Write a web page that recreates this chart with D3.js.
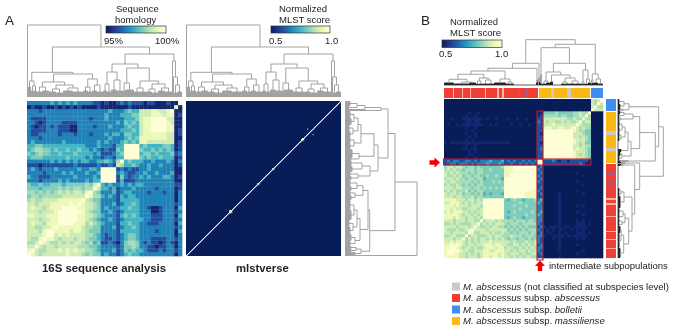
<!DOCTYPE html>
<html>
<head>
<meta charset="utf-8">
<script src="https://cdn.jsdelivr.net/npm/d3@7"></script>
<style>
    html, body { margin: 0; padding: 0; background: #fff; }
    svg { filter: blur(0.35px); }
    text { font-family: "Liberation Sans", Arial, sans-serif; fill: #222; }
</style>
</head>
<body>
<div id="chart"></div>
<script>
'use strict';

// lower triangle of the 16S heatmap, row 0 is bottom left, digits 0-9 = low to high
var homologyRows = [
    '9',
    '89',
    '779',
    '6679',
    '76689',
    '777789',
    '7776899',
    '77 667 78 9',
    '78 776 88 89',
    '77 767 78 899',
    '88 777 88 8999',
    '77 767 77 89999',
    '78 776 78 889999',
    '77 677 78 8888989',
    '67 667 77 78888889',
    '56 656 66 66777777 9',
    '66 565 65 67676776 89',
    '55 545 55 56565665 66 9',
    '54 454 45 55455555 65 79',
    '33 323 33 34343333 43 44 9',
    '43 322 23 33333433 33 43 99',
    '33 332 33 33434333 43 34 999',
    '34 323 33 43333343 34 43 9999',
    '22 212 22 22222322 22 23 2232 7',
    '33 333 34 34343434 43 34 4543 69',
    '45 554 44 44454444 34 33 2332 44 9',
    '54 565 54 45444544 44 34 2223 45 99',
    '45 665 54 54454454 43 43 2322 54 999',
    '44 554 44 44444444 33 34 3332 44 9999',
    '34 333 33 33433333 33 34 3433 34 5454 8',
    '33 323 33 33333333 33 33 3343 33 4545 88',
    '32 233 33 32333233 32 33 3434 43 5544 788',
    '32 222 33 32221133 33 33 3333 34 4454 7889',
    '32 122 32 32221133 33 23 3343 33 4544 78899',
    '33 212 33 33222233 33 33 3333 43 5454 788999',
    '32 222 33 33333333 32 33 3433 33 4445 7889999',
    '33 333 33 33333333 33 33 3433 34 4455 77788878',
    '33 323 33 33333333 33 33 3343 33 4544 777887789',
    '12 112 11 21212121 11 12 1111 11 1211 111111111 8',
    '33 333 34 34343433 33 22 1211 23 2322 212211121 1 9'
];

// lower triangle of the MLST heatmap in panel B, same reading
var mlstRows = [
    '9',
    '89',
    '899',
    '8899',
    '88989',
    '778788',
    '777677 9',
    '667766 69',
    '776777 769',
    '766676 6789',
    '777767 77679',
    '667676 666779',
    '777677 7677669',
    '888787 7677676 9',
    '888887 6776767 99',
    '787888 7767677 999',
    '887877 6677767 9999',
    '888787 7767776 99999',
    '778887 6767677 999999',
    '888877 7677676 9999999',
    '777677 6667566 5555555 9',
    '767767 5665656 4545554 99',
    '676766 6756566 5555555 999',
    '777677 6665665 6565656 9999',
    '676676 5656566 5555555 99999',
    '767766 6665656 5556565 999999',
    '677676 6566566 4555554 9999999',
    '766767 5665665 5655655 88999999',
    '767676 6656566 5555555 889999999',
    '676766 5666566 5565555 8889999999',
    '677677 6566565 5555556 88899999999',
    '223323 3323233 3433343 22322323232 9',
    '232332 2332323 3343334 23232232323 99',
    '000000 0100100 0000000 00000000000 22 9',
    '000000 0011000 0000000 00000000000 22 99',
    '000000 0010100 0000000 00000000000 22 999',
    '000000 1101100 0000000 00000000000 23 9999',
    '000000 0100100 0000000 00000000000 22 99999',
    '101111 1111111 1111111 11000000000 21 999999',
    '000000 0101000 0000000 00000000000 22 9999999',
    '000000 0010100 0000000 00000000000 22 99999999',
    '000000 0100100 0000000 00000000000 21 999999999',
    '000000 0001000 0000000 00000000000 22 9999999999',
    '000000 0100100 0000000 00000000000 22 8887788778 9',
    '010010 1111111 0010100 00100100100 22 7778777777 79',
    '000000 0110110 0000000 00000000000 32 7677667676 679',
    '001000 1111111 0100100 01001001000 22 7777777766 7669',
    '000000 0100100 0000000 00000000000 12 6666656655 66769',
    '000000 0010010 0000000 00000000000 11 5555655555 667669',
    '000000 0000000 0000000 00000000000 00 0000000000 000000 9',
    '000000 0000000 0000000 00000000000 00 0000000000 000000 79',
    '000000 0000000 0000000 00000000000 00 0000000000 000000 769',
    '000000 0000000 0000000 00000000000 00 0000000000 000000 7679'
];

// mlstverse panel: bright spots on and next to the diagonal [row, col, score]
var mlstverseSpots = [
    [43, 43, 1], [44, 44, 1], [45, 45, 1], [43, 44, 0.9], [44, 43, 0.9], [44, 45, 0.9], [45, 44, 0.9],
    [43, 45, 0.8], [45, 43, 0.8],
    [72, 72, 1], [71, 72, 0.8], [72, 71, 0.8],
    [82, 82, 1], [87, 87, 1], [86, 87, 0.8], [87, 86, 0.8],
    [114, 114, 1], [116, 116, 1], [117, 117, 1], [116, 117, 1], [117, 116, 1],
    [115, 116, 0.85], [116, 115, 0.85],
    [126, 126, 0.85], [127, 127, 0.85],
    [127, 121, 0.68], [126, 121, 0.68], [121, 127, 0.68], [121, 126, 0.68]
];

// dendrograms: [height, child, child], [height, n] is a clump of n leaves,
// a bare number is a stretch of n leaves lying flat on the base line
var treeA = [72,
    [0, 1],
    [50,
        [24.7,
            [16, [10, 3], [11, [6, 3], [6, 3]]],
            [23,
                [15,
                    [10, [5, 5], [6, 7]],
                    [12, [8, [5, 7], [4, 7]], [9, [6, 10], [5, 10]]]
                ],
                [18, [10, [6, 5], [5, 4]], [12, [6, 5], [5, 6]]]
            ]
        ],
        [43,
            [33,
                [25, [13, [6, 4], [5, 4]], [17, [7, 6], [6, 6]]],
                [29,
                    [14, [6, 2], [7, 9]],
                    [16,
                        [9, [5, 6], [5, 6]],
                        [13, [8, [5, 6], [4, 6]], [9, [6, 7], [5, 7]]]
                    ]
                ]
            ],
            [36, [0, 1], [20, [0, 1], [12, [4, 3], [5, 5]]]]
        ]
    ]
];

var treeB = [45.3,
    [21.7,
        [16.7,
            [14,
                [10.7,
                    [5.7, [2, 10], [3, [1, 15], [2, 7]]],
                    [7, [4, [1, 3], [1, 4]], [5, [1, 5], [1, 6]]]
                ],
                [6, [2, 12], [3, [1, 4], [1, 4]]]
            ],
            22,
            [5, [2, 1], [3, 1]]
        ],
        [7, [0, 1], [3, 1]]
    ],
    [40.7,
        [37.3,
            [10, [2, 1], [1, 1]],
            [21.7,
                [13,
                    [4, [1, 4], [2, 4]],
                    [10, [3, 3], 8, [7, [3, [1, 4], [1, 4]], [4, [1, 6], [1, 6]]]]
                ],
                [15, [3, [1, 2], [1, 2]], [6, [1, 3], [2, 3]]]
            ]
        ],
        [11, [5, [1, 1], [2, 2]], [6, [2, 4], [1, 5]]]
    ]
];

// subspecies strip in panel B, read left to right along the columns
var stripTypes = ['abs', 'pale', 'abs', 'pale', 'abs', 'pale', 'abs', 'pale', 'abs', 'pale', 'abs', 'pale',
    'abs', 'mix', 'abs', 'mix', 'abs', 'gap', 'mas', 'unc', 'mas', 'unc', 'mas', 'gap', 'bol'];
var stripCounts = [9, 1, 8, 1, 7, 1, 14, 1, 11, 2, 3, 2, 15, 1, 6, 2, 10, 1, 12, 3, 13, 4, 19, 1, 12];
var stripColors = { abs: '#ee4035', pale: '#f7b4a6', mix: '#9a5f96', mas: '#fdb913', unc: '#c9c9c9', bol: '#418cf0', gap: '#ffffff' };

var legendTypes = ['unc', 'abs', 'bol', 'mas'];
var legendPlain = [' (not classified at subspecies level)', ' subsp. ', ' subsp. ', ' subsp. '];
var legendItalic = ['', 'abscessus', 'bolletii', 'massiliense'];

var scoreTicks = [0.5, 1];
var homologyTicks = ['95%', '100%'];

var svg = d3.select('#chart').append('svg')
    .attr('width', 675)
    .attr('height', 332)
    .style('display', 'block');

// digit to position on the colour ramp, the low end stays close to navy
var colorT = d3.scaleLinear()
    .domain([0, 1, 2, 3, 4, 5, 6, 7, 8, 9])
    .range([1, 0.95, 0.8, 0.66, 0.5, 0.38, 0.3, 0.22, 0.11, 0.01]);
var digitColor = function (digit) { return d3.interpolateYlGnBu(colorT(digit)); };
var scoreToDigit = d3.scaleLinear().domain([0.5, 1]).range([0, 9]);

// turn a lower triangle into cells, columns left to right, rows bottom to top
var drawTriangle = function (rows, x0, x1, y0, y1) {
    var clean = rows.map(function (r) { return r.replace(/ /g, ''); });
    var n = clean.length;
    var cells = [];
    clean.forEach(function (row, i) {
        row.split('').forEach(function (ch, j) {
            cells.push({ row: i, col: j, v: +ch });
            if (i !== j) cells.push({ row: j, col: i, v: +ch });
        });
    });
    var x = d3.scaleBand().domain(d3.range(n)).range([x0, x1]);
    var y = d3.scaleBand().domain(d3.range(n)).range([y1, y0]);
    svg.append('g').selectAll('rect')
        .data(cells)
        .enter()
        .append('rect')
        .attr('x', function (d) { return x(d.col); })
        .attr('y', function (d) { return y(d.row); })
        .attr('width', x.bandwidth() + 0.3)
        .attr('height', y.bandwidth() + 0.3)
        .attr('fill', function (d) { return digitColor(d.v); });
    return { x: x, y: y };
};

// work out the branches of a tree, leaves are numbered from 0
var layoutTree = function (tree) {
    var segs = [];
    var next = 0;
    var walk = function (node) {
        if (typeof node === 'number') {
            next += node;
            return null;
        }
        var h = node[0];
        if (node.length === 2 && typeof node[1] === 'number') {
            var first = next + 0.5;
            d3.range(node[1]).forEach(function () {
                segs.push({ u1: next + 0.5, h1: 0, u2: next + 0.5, h2: h, leaf: true });
                next += 1;
            });
            var last = next - 0.5;
            if (last > first) segs.push({ u1: first, h1: h, u2: last, h2: h, leaf: true });
            return { u: (first + last) / 2, h: h };
        }
        var kids = node.slice(1).map(walk).filter(function (k) { return k; });
        var lo = kids[0].u;
        var hi = kids[kids.length - 1].u;
        segs.push({ u1: lo, h1: h, u2: hi, h2: h });
        kids.forEach(function (k) {
            segs.push({ u1: k.u, h1: h, u2: k.u, h2: k.h });
        });
        return { u: (lo + hi) / 2, h: h };
    };
    walk(tree);
    return segs;
};

var drawTree = function (segs, uScale, hScale, horizontal, branchColor, leafColor) {
    svg.append('g').selectAll('line')
        .data(segs)
        .enter()
        .append('line')
        .attr('x1', function (d) { return horizontal ? hScale(d.h1) : uScale(d.u1); })
        .attr('y1', function (d) { return horizontal ? uScale(d.u1) : hScale(d.h1); })
        .attr('x2', function (d) { return horizontal ? hScale(d.h2) : uScale(d.u2); })
        .attr('y2', function (d) { return horizontal ? uScale(d.u2) : hScale(d.h2); })
        .attr('stroke', function (d) { return d.leaf ? leafColor : branchColor; })
        .attr('stroke-width', function (d) { return d.leaf ? 1 : 0.9; });
};

var addText = function (str, x, y, size, weight) {
    return svg.append('text')
        .attr('x', x)
        .attr('y', y)
        .attr('font-size', size)
        .attr('font-weight', weight || 'normal')
        .text(str);
};

var gradientId = 0;
var drawColorbar = function (x0, x1, y0, y1) {
    gradientId += 1;
    var id = 'bar' + gradientId;
    var grad = svg.append('defs').append('linearGradient').attr('id', id);
    d3.range(0, 10).forEach(function (d) {
        grad.append('stop')
            .attr('offset', (d / 9 * 100) + '%')
            .attr('stop-color', d3.interpolateYlGnBu(1 - d / 9));
    });
    svg.append('rect')
        .attr('x', x0)
        .attr('y', y0)
        .attr('width', x1 - x0)
        .attr('height', y1 - y0)
        .attr('fill', 'url(#' + id + ')')
        .attr('stroke', '#333')
        .attr('stroke-width', 0.7);
};

// ---- panel A ----
addText('A', 5, 25, 13.5);
addText('Sequence', 116, 11.5, 9.5);
addText('homology', 115, 22.5, 9.5);
drawColorbar(106, 166, 26, 33);
addText(homologyTicks[0], 104, 44, 9.5);
addText(homologyTicks[1], 155, 44, 9.5);

addText('Normalized', 279, 11.5, 9.5);
addText('MLST score', 279, 23, 9.5);
drawColorbar(271, 330, 26, 33);
addText(scoreTicks[0].toFixed(1), 269, 44, 9.5);
addText(scoreTicks[1].toFixed(1), 325, 44, 9.5);

var segsA = layoutTree(treeA);
var heightTop = d3.scaleLinear().domain([0, 72]).range([97, 25]);
drawTree(segsA, d3.scaleLinear().domain([0, 155]).range([27, 182]), heightTop, false, '#999', '#a2a2a2');
drawTree(segsA, d3.scaleLinear().domain([0, 155]).range([186, 341]), heightTop, false, '#999', '#a2a2a2');
drawTree(segsA, d3.scaleLinear().domain([0, 155]).range([256, 101]),
    d3.scaleLinear().domain([0, 72]).range([345, 417]), true, '#999', '#a2a2a2');

drawTriangle(homologyRows, 27, 182, 101, 256);

// mlstverse heatmap is navy apart from the diagonal
var mlstverseSize = 155;
var xV = d3.scaleBand().domain(d3.range(mlstverseSize)).range([186, 341]);
var yV = d3.scaleBand().domain(d3.range(mlstverseSize)).range([256, 101]);
svg.append('rect')
    .attr('x', 186)
    .attr('y', 101)
    .attr('width', 155)
    .attr('height', 155)
    .attr('fill', digitColor(0));
var diagonal = d3.range(mlstverseSize).map(function (i) { return [i, i, 1]; });
svg.append('g').selectAll('rect')
    .data(diagonal.concat(mlstverseSpots))
    .enter()
    .append('rect')
    .attr('x', function (d) { return xV(d[1]); })
    .attr('y', function (d) { return yV(d[0]); })
    .attr('width', xV.bandwidth() + 0.2)
    .attr('height', yV.bandwidth() + 0.2)
    .attr('fill', function (d) { return digitColor(scoreToDigit(d[2])); });

addText('16S sequence analysis', 42, 272, 11.4, 'bold');
addText('mlstverse', 236, 272, 11.3, 'bold');

// ---- panel B ----
addText('B', 421, 25, 13.5);
addText('Normalized', 450, 25, 9.5);
addText('MLST score', 450, 36, 9.5);
drawColorbar(442, 502, 40, 47.5);
addText(scoreTicks[0].toFixed(1), 439, 57, 9.5);
addText(scoreTicks[1].toFixed(1), 495, 57, 9.5);

var segsB = layoutTree(treeB);
var uTop = d3.scaleLinear().domain([0, 159]).range([444, 603]);
var uRight = d3.scaleLinear().domain([0, 159]).range([258, 99]);
drawTree(segsB, uTop, d3.scaleLinear().domain([0, 47]).range([85, 38]), false, '#999', '#222');
drawTree(segsB, uRight, d3.scaleLinear().domain([0, 47]).range([618, 665]), true, '#999', '#222');
svg.append('line').attr('x1', 444).attr('x2', 603).attr('y1', 85).attr('y2', 85)
    .attr('stroke', '#333').attr('stroke-width', 0.8);
svg.append('line').attr('x1', 618).attr('x2', 618).attr('y1', 99).attr('y2', 258)
    .attr('stroke', '#333').attr('stroke-width', 0.8);

var gridB = drawTriangle(mlstRows, 444, 603, 99, 258);

// subspecies strips above and to the right of the heatmap
var stripRuns = [];
var stripPos = 0;
stripTypes.forEach(function (t, i) {
    stripRuns.push({ type: t, start: stripPos, end: stripPos + stripCounts[i] });
    stripPos += stripCounts[i];
});
svg.append('g').selectAll('rect')
    .data(stripRuns)
    .enter()
    .append('rect')
    .attr('x', function (d) { return uTop(d.start); })
    .attr('width', function (d) { return uTop(d.end) - uTop(d.start); })
    .attr('y', 88)
    .attr('height', 10)
    .attr('fill', function (d) { return stripColors[d.type]; });
svg.append('g').selectAll('rect')
    .data(stripRuns)
    .enter()
    .append('rect')
    .attr('x', 606)
    .attr('width', 10)
    .attr('y', function (d) { return uRight(d.end); })
    .attr('height', function (d) { return uRight(d.start) - uRight(d.end); })
    .attr('fill', function (d) { return stripColors[d.type]; });

// outlines of the intermediate subpopulation
var outlineRed = '#c4162a';
svg.append('rect')
    .attr('x', gridB.x(31))
    .attr('y', gridB.y(48))
    .attr('width', gridB.x.bandwidth() * 2)
    .attr('height', 260 - gridB.y(48))
    .attr('fill', 'none')
    .attr('stroke', outlineRed)
    .attr('stroke-width', 1.1);
svg.append('rect')
    .attr('x', 443.5)
    .attr('y', gridB.y(32))
    .attr('width', gridB.x(48) + gridB.x.bandwidth() - 443.5)
    .attr('height', gridB.y.bandwidth() * 2)
    .attr('fill', 'none')
    .attr('stroke', outlineRed)
    .attr('stroke-width', 1.1);

// block arrows
var arrowShape = 'M-5,-2.2L0,-2.2L0,-5L5.5,0L0,5L0,2.2L-5,2.2Z';
svg.append('path').attr('d', arrowShape)
    .attr('transform', 'translate(434.5,162.5)')
    .attr('fill', '#f00000');
svg.append('path').attr('d', arrowShape)
    .attr('transform', 'translate(540,266) rotate(-90)')
    .attr('fill', '#f00000');

addText('intermediate subpopulations', 549, 269, 9.5);

// legend
var legendY = d3.scaleBand().domain(d3.range(legendTypes.length)).range([281, 327]);
legendTypes.forEach(function (t, i) {
    svg.append('rect')
        .attr('x', 452)
        .attr('y', legendY(i) + 1.5)
        .attr('width', 8)
        .attr('height', 8)
        .attr('fill', stripColors[t]);
    var label = addText('', 463, legendY(i) + 8.8, 9.55);
    label.append('tspan').attr('font-style', 'italic').text('M. abscessus');
    label.append('tspan').text(legendPlain[i]);
    label.append('tspan').attr('font-style', 'italic').text(legendItalic[i]);
});
</script>
</body>
</html>
